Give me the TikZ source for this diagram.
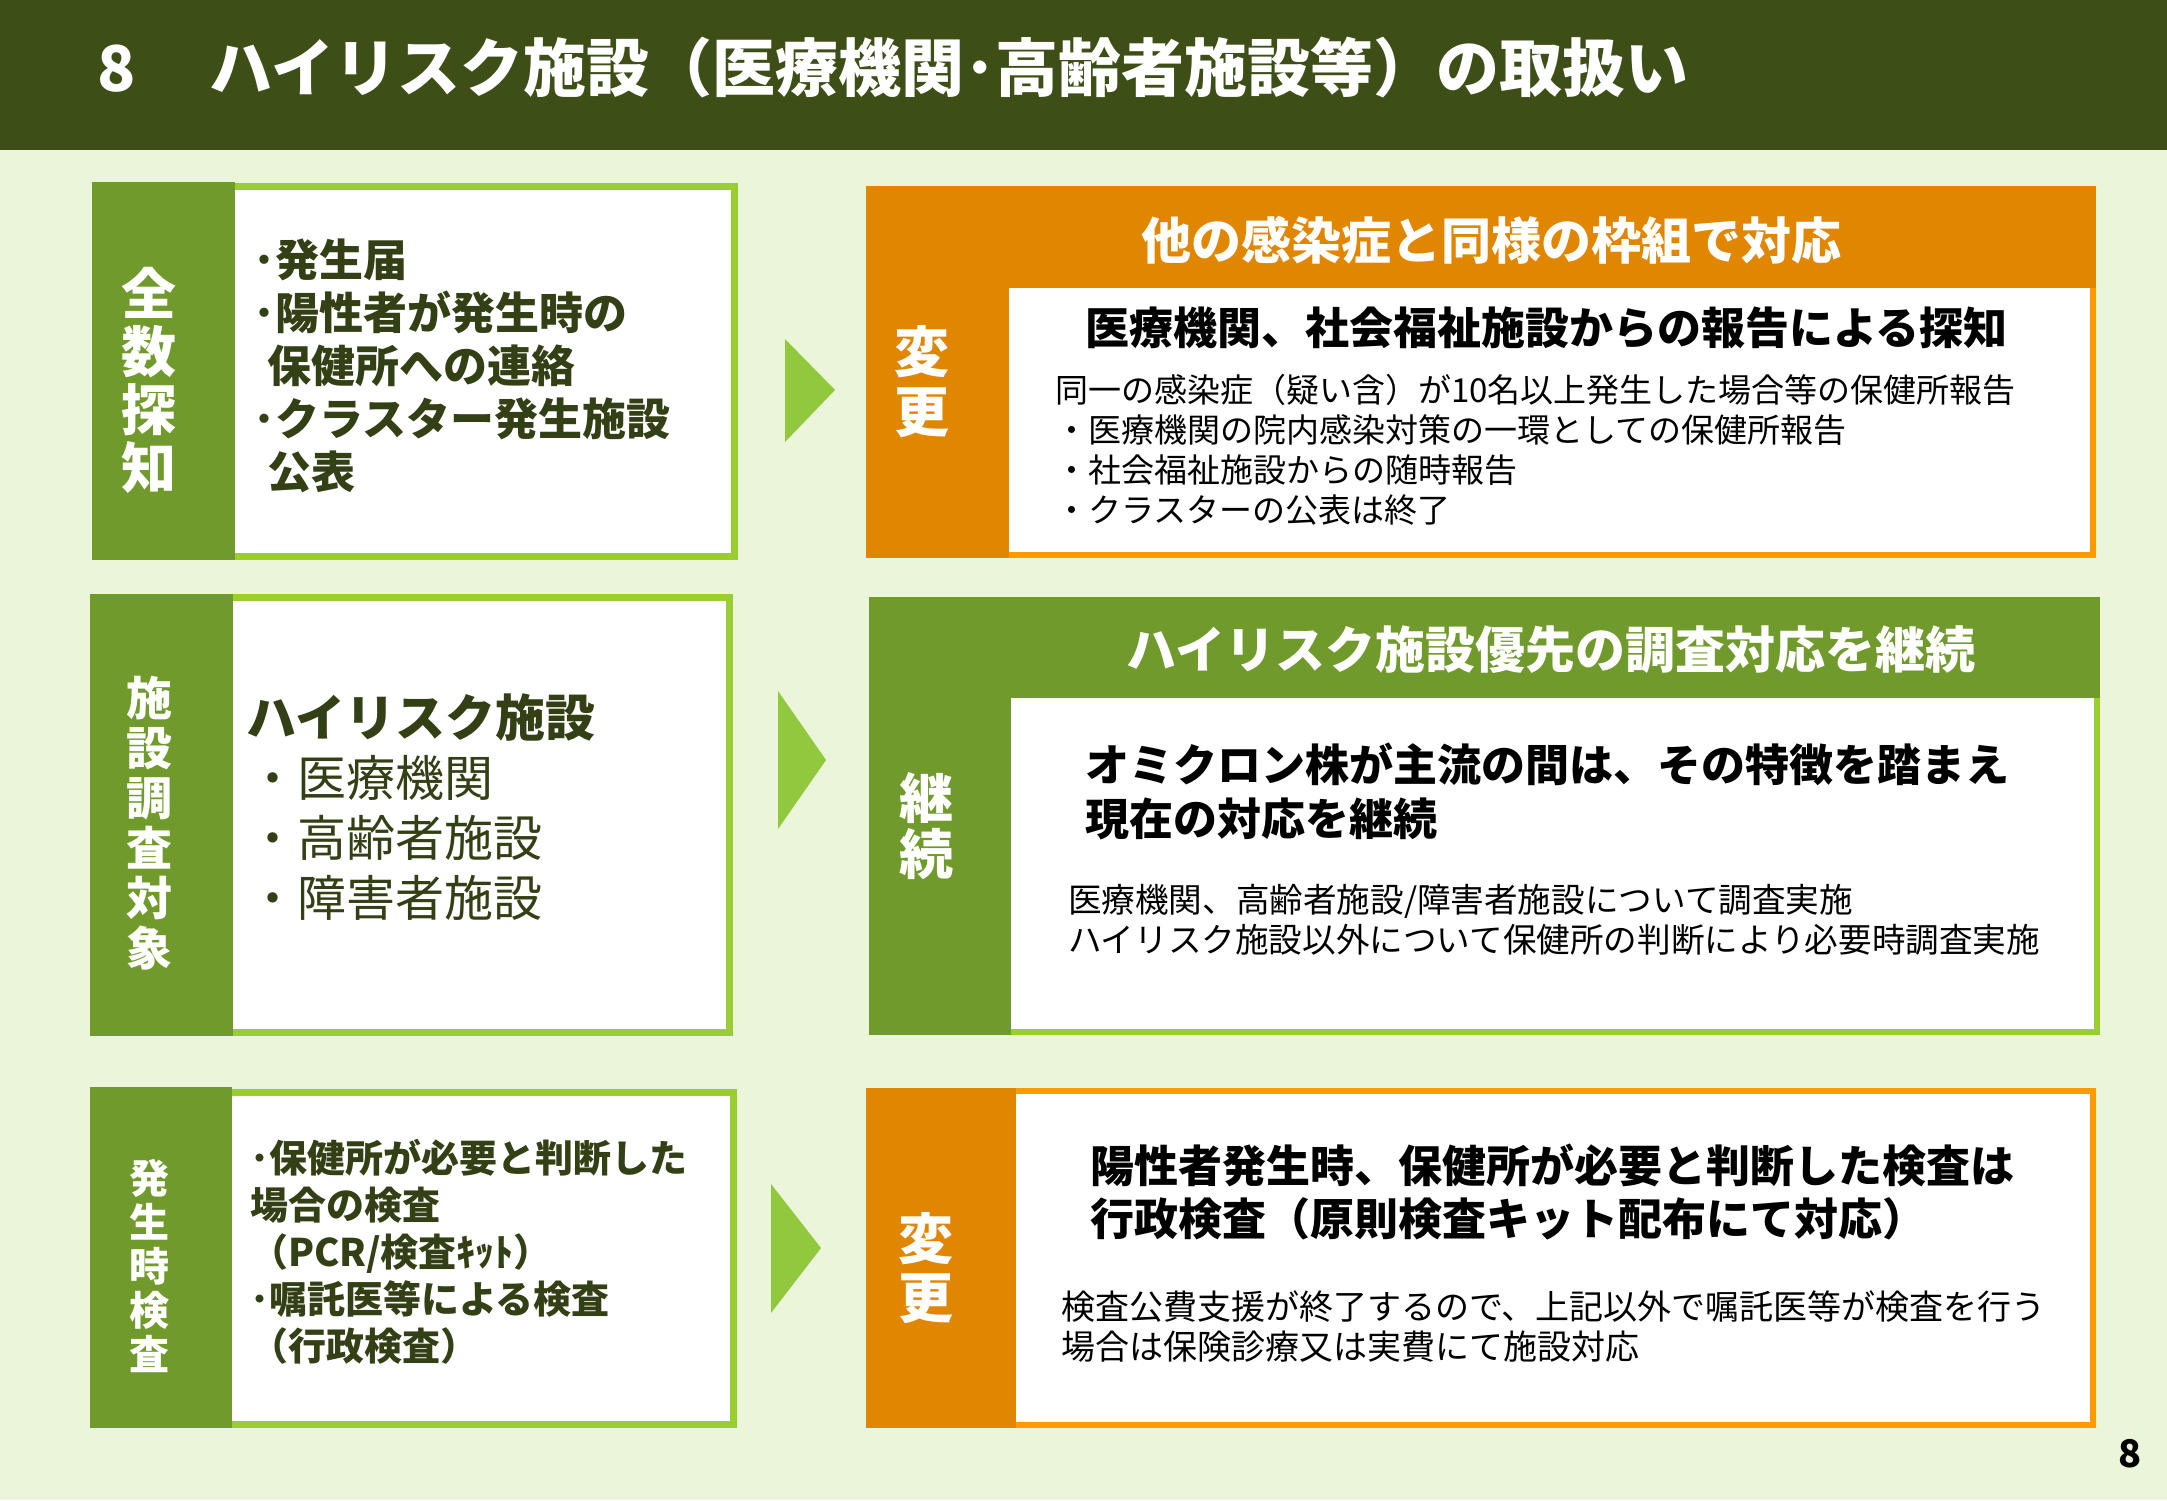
\documentclass[tikz,border=0pt]{standalone}
\usepackage{fontspec}
\setmainfont{Noto Sans CJK JP}
\definecolor{bgc}{HTML}{EBF5DA}
\definecolor{hdrc}{HTML}{3D4F17}
\definecolor{lblgreen}{HTML}{709A2B}
\definecolor{ltgreen}{HTML}{9ACD32}
\definecolor{arrgreen}{HTML}{92C83E}
\definecolor{dkorange}{HTML}{E08600}
\definecolor{brorange}{HTML}{FF9A00}
\definecolor{txtolive}{HTML}{333F14}
\newcommand\myfs[2]{\fontsize{#1}{#2}\selectfont}
\begin{document}
\begin{tikzpicture}[x=0.5pt,y=-0.5pt,
  every node/.style={inner sep=0pt,outer sep=0pt},
  vlabel/.style={align=center,text=white,font=\bfseries},
  ltxt/.style={anchor=west,align=left,text=txtolive},
  rtxt/.style={anchor=west,align=left,text=black},
  hdrtxt/.style={text=white,font=\bfseries\myfs{25}{30}},
  arrowtri/.style={fill=arrgreen,draw=none}]
\useasboundingbox (0,0) rectangle (2167,1500);
% background and header
\fill[bgc] (0,0) rectangle (2167,1500);
\fill[hdrc] (0,0) rectangle (2167,150);
\node[anchor=west,text=white,font=\bfseries\myfs{31.5}{36}] (title) at (97,67) {8\hspace{37pt}ハイリスク施設（医療機関･高齢者施設等）の取扱い};

% ---------- Row 1 ----------
\draw[ltgreen,line width=3.5pt,fill=white] (231,186.5) rectangle (734.5,556.5);
\fill[lblgreen] (92,182) rectangle (235,560);
\node[vlabel,font=\bfseries\myfs{27.5}{29}] (l1) at (149,380) {全\\数\\探\\知};
\node[ltxt,font=\bfseries\myfs{22}{26.5}] (c1) at (253,365.5) {･発生届\\･陽性者が発生時の\\\hspace{7pt}保健所への連絡\\･クラスター発生施設\\\hspace{7pt}公表};
\fill[arrowtri] (785,339) -- (835,390) -- (785,442) -- cycle;
\draw[brorange,line width=3pt,fill=white] (869,189) rectangle (2093,555);
\fill[dkorange] (866,186) rectangle (2096,288);
\fill[dkorange] (866,186) rectangle (1009,558);
\node[hdrtxt] (h1) at (1491,240) {他の感染症と同様の枠組で対応};
\node[vlabel,font=\bfseries\myfs{27.5}{30}] (r1) at (922,382) {変\\更};
\node[rtxt,font=\bfseries\myfs{22}{27}] (s1) at (1085,328) {医療機関、社会福祉施設からの報告による探知};
\node[rtxt,font=\myfs{16.5}{20}] (b1) at (1055,450) {同一の感染症（疑い含）が10名以上発生した場合等の保健所報告\\・医療機関の院内感染対策の一環としての保健所報告\\・社会福祉施設からの随時報告\\・クラスターの公表は終了};

% ---------- Row 2 ----------
\draw[ltgreen,line width=3.5pt,fill=white] (229,597.5) rectangle (729.5,1032.5);
\fill[lblgreen] (90,594) rectangle (233,1036);
\node[vlabel,font=\bfseries\myfs{23}{25}] (l2) at (149,823) {施\\設\\調\\査\\対\\象};
\node[ltxt,font=\bfseries\myfs{25}{30}] (c2a) at (246,717) {ハイリスク施設};
\node[ltxt,font=\myfs{24.5}{30}] (c2b) at (248,838) {・医療機関\\・高齢者施設\\・障害者施設};
\fill[arrowtri] (778,691) -- (826,760) -- (778,829) -- cycle;
\draw[ltgreen,line width=3pt,fill=white] (872,600) rectangle (2097,1032);
\fill[lblgreen] (869,597) rectangle (2100,698);
\fill[lblgreen] (869,597) rectangle (1011,1035);
\node[hdrtxt] (h2) at (1551,650) {ハイリスク施設優先の調査対応を継続};
\node[vlabel,font=\bfseries\myfs{27}{28}] (r2) at (926,826) {継\\続};
\node[rtxt,font=\bfseries\myfs{22}{27}] (s2) at (1085,791) {オミクロン株が主流の間は、その特徴を踏まえ\\現在の対応を継続};
\node[rtxt,font=\myfs{16.8}{20}] (b2) at (1068,920) {医療機関、高齢者施設/障害者施設について調査実施\\ハイリスク施設以外について保健所の判断により必要時調査実施};

% ---------- Row 3 ----------
\draw[ltgreen,line width=3.5pt,fill=white] (228,1092.5) rectangle (733.5,1424.5);
\fill[lblgreen] (90,1087) rectangle (232,1428);
\node[vlabel,font=\bfseries\myfs{20}{22}] (l3) at (149,1266) {発\\生\\時\\検\\査};
\node[ltxt,font=\bfseries\myfs{19}{23.5}] (c3) at (250,1252) {･保健所が必要と判断した\\場合の検査\\（PCR/検査ｷｯﾄ）\\･嘱託医等による検査\\（行政検査）};
\fill[arrowtri] (771,1184) -- (821,1248) -- (771,1313) -- cycle;
\draw[brorange,line width=3pt,fill=white] (869,1091) rectangle (2093,1425);
\fill[dkorange] (866,1088) rectangle (1016,1428);
\node[vlabel,font=\bfseries\myfs{27.5}{29.5}] (r3) at (926,1268) {変\\更};
\node[rtxt,font=\bfseries\myfs{22}{26.5}] (s3) at (1090,1191.5) {陽性者発生時、保健所が必要と判断した検査は\\行政検査（原則検査キット配布にて対応）};
\node[rtxt,font=\myfs{17}{20}] (b3) at (1061,1327) {検査公費支援が終了するので、上記以外で嘱託医等が検査を行う\\場合は保険診療又は実費にて施設対応};

% page number
\node[font=\bfseries\myfs{19}{22},text=black] (pg) at (2130,1454) {8};
\end{tikzpicture}
\end{document}
